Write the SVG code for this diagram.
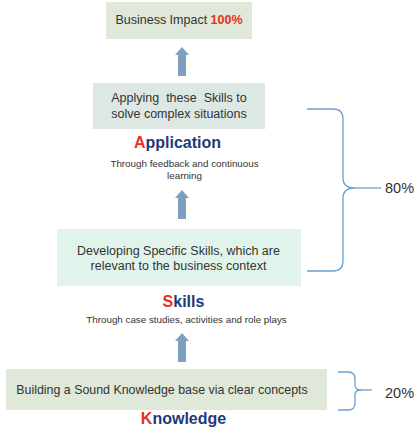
<svg xmlns="http://www.w3.org/2000/svg" width="420" height="435" viewBox="0 0 420 435">
<style>
.t{font-family:"Liberation Sans",Arial,sans-serif;fill:#333;text-anchor:middle}
.b{font-size:12.5px}
.s{font-size:9.8px}
.h{font-family:"Liberation Sans",Arial,sans-serif;font-weight:bold;font-size:16px;fill:#1f3a78;text-anchor:middle}
.r{fill:#e8301e}
.br{fill:none;stroke:#6a9fd4;stroke-width:1.3}
.arr{fill:#7f9fbf}
.p{font-family:"Liberation Sans",Arial,sans-serif;font-size:14.5px;fill:#333}
</style>
<defs>
<path id="arrow" d="M0,0 L7,8 L4,8 L4,29 L-4,29 L-4,8 L-7,8 Z"/>
</defs>
<rect width="420" height="435" fill="#fff"/>
<g id="impact">
<rect x="106" y="2" width="146" height="37" fill="#dfe8d9"/>
<text class="t" x="179" y="24" style="font-size:12.5px">Business Impact <tspan style="fill:#e8301e;font-weight:bold">100%</tspan></text>
</g>
<g id="application">
<rect x="93" y="83" width="172" height="46" fill="#dde7e3"/>
<text class="t b" x="179" y="102" style="white-space:pre">Applying  these  Skills to</text>
<text class="t b" x="179" y="118">solve complex situations</text>
<text class="h" x="177.5" y="148"><tspan class="r">A</tspan>pplication</text>
<text class="t s" x="184.5" y="167">Through feedback and continuous</text>
<text class="t s" x="184.5" y="179">learning</text>
</g>
<g id="skills">
<rect x="57" y="229" width="244" height="57" fill="#e1f4ec"/>
<text class="t b" x="178.5" y="255">Developing Specific Skills, which are</text>
<text class="t b" x="178.5" y="270">relevant to the business context</text>
<text class="h" x="183.5" y="307"><tspan class="r">S</tspan>kills</text>
<text class="t s" x="186.5" y="323">Through case studies, activities and role plays</text>
</g>
<g id="knowledge">
<rect x="6" y="369" width="321" height="41" fill="#dfe8d9"/>
<text class="t" x="162" y="394" style="font-size:12.4px">Building a Sound Knowledge base via clear concepts</text>
<text class="h" x="183.5" y="424"><tspan class="r">K</tspan>nowledge</text>
</g>
<g id="connectors">
<use href="#arrow" class="arr" x="182" y="47"/>
<use href="#arrow" class="arr" x="182" y="190"/>
<use href="#arrow" class="arr" x="182" y="333"/>
<path class="br" d="M307,109 L333,109 Q343,109 343,119 L343,178 Q343,188 355,188 Q343,188 343,198 L343,261 Q343,271 333,271 L307,271"/>
<path class="br" d="M355,188 L381,188"/>
<path class="br" d="M338,372 L348,372 Q355,372 355,379 L355,385 Q355,390 361,390 Q355,390 355,395 L355,403 Q355,410 348,410 L338,410"/>
<path class="br" d="M360,390 L372,390"/>
</g>
<g id="labels">
<text class="p" x="385" y="193">80%</text>
<text class="p" x="385" y="398">20%</text>
</g>
</svg>
